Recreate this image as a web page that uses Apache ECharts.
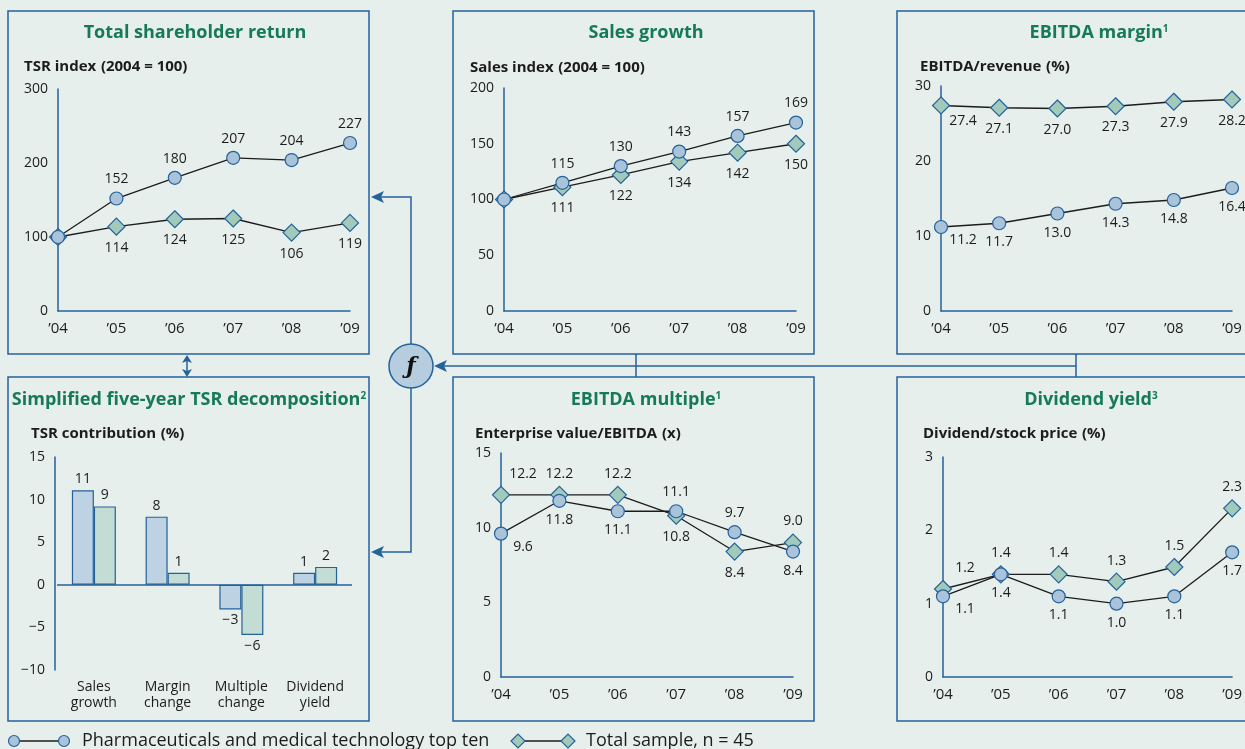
<!DOCTYPE html>
<html>
<head>
<meta charset="utf-8">
<title>Pharma TSR decomposition</title>
<script src="https://cdn.jsdelivr.net/npm/echarts@6/dist/echarts.min.js"></script>
<style>
  html, body { margin: 0; padding: 0; background: #e6efec; }
  #chart { width: 1245px; height: 749px; }
</style>
</head>
<body>
<div id="chart"></div>
<script>
// data
const years = ['’04', '’05', '’06', '’07', '’08', '’09']

const tsrTop = [100, 152, 180, 207, 204, 227]
const tsrAll = [100, 114, 124, 125, 106, 119]
const salesTop = [100, 115, 130, 143, 157, 169]
const salesAll = [100, 111, 122, 134, 142, 150]
const marginTop = [11.2, 11.7, 13.0, 14.3, 14.8, 16.4]
const marginAll = [27.4, 27.1, 27.0, 27.3, 27.9, 28.2]
const multipleTop = [9.6, 11.8, 11.1, 11.1, 9.7, 8.4]
const multipleAll = [12.2, 12.2, 12.2, 10.8, 8.4, 9.0]
const yieldTop = [1.1, 1.4, 1.1, 1.0, 1.1, 1.7]
const yieldAll = [1.2, 1.4, 1.4, 1.3, 1.5, 2.3]

const drivers = ['Sales\ngrowth', 'Margin\nchange', 'Multiple\nchange', 'Dividend\nyield']
const driverTop = [11.1, 8.0, -2.9, 1.4]
const driverAll = [9.2, 1.4, -5.9, 2.1]

const tsrTicks = [0, 100, 200, 300]
const salesTicks = [0, 50, 100, 150, 200]
const marginTicks = [0, 10, 20, 30]
const driverTicks = [-10, -5, 0, 5, 10, 15]
const multipleTicks = [0, 5, 10, 15]
const yieldTicks = [0, 1, 2, 3]

const topName = 'Pharmaceuticals and medical technology top ten'
const allName = 'Total sample, n = 45'

const font = '"Open Sans", "Noto Sans", sans-serif'
const blue = '#25619a'
const green = '#157a55'
const ink = '#1c1c1c'
const circleFill = '#a8c3da'
const diamondFill = '#a2cabb'

const minus = s => String(s).replace('-', '\u2212')

// grids, one per panel
const grids = [
  { left: 58, top: 89, width: 292, height: 222 },
  { left: 504, top: 88, width: 292, height: 223 },
  { left: 941, top: 86, width: 291, height: 225 },
  { left: 57, top: 457, width: 295, height: 213 },
  { left: 501, top: 453, width: 292, height: 224 },
  { left: 943, top: 457, width: 292, height: 220 }
]
const ticks = [tsrTicks, salesTicks, marginTicks, driverTicks, multipleTicks, yieldTicks]

const axisLine = { show: true, onZero: false, lineStyle: { color: blue, width: 1.5 } }
const tickLabel = { color: ink, fontSize: 14, fontFamily: font }

const xAxes = grids.map((g, i) => {
  if (i === 3) {
    return {
      gridIndex: i, type: 'category', data: drivers,
      axisLine: { show: false }, axisTick: { show: false },
      axisLabel: Object.assign({}, tickLabel, { margin: 9, lineHeight: 16, interval: 0 })
    }
  }
  return {
    gridIndex: i, type: 'category', data: years, boundaryGap: false,
    axisLine: axisLine, axisTick: { show: false },
    axisLabel: Object.assign({}, tickLabel, { fontSize: 15, margin: 10, interval: 0 })
  }
})

const yAxes = ticks.map((t, i) => ({
  gridIndex: i, type: 'value',
  min: t[0], max: t[t.length - 1], interval: t[1] - t[0],
  offset: i === 3 ? 2 : 0,
  axisLine: axisLine, axisTick: { show: false }, splitLine: { show: false },
  axisLabel: Object.assign({}, tickLabel, { margin: 10, formatter: v => minus(v) })
}))

// label above the point if it is the higher of the pair, else below
function points(vals, other, isTop, opts) {
  return vals.map((v, i) => {
    let pos
    if (opts.below) pos = 'bottom'
    else pos = (isTop ? v > other[i] : v >= other[i]) ? 'top' : 'bottom'
    const label = { position: pos }
    if (i === 0) {
      if (opts.hideFirst) label.show = false
      else label.offset = [22, pos === 'top' ? 0 : -6]
    }
    return { value: v, label: label }
  })
}

function lineSeries(idx, top, all, dec, opts) {
  const base = {
    type: 'line', xAxisIndex: idx, yAxisIndex: idx,
    lineStyle: { color: ink, width: 1.3 },
    itemStyle: { borderColor: blue, borderWidth: 1.2 },
    label: {
      show: true, distance: 5, color: ink, fontSize: 14, fontFamily: font,
      formatter: p => p.value.toFixed(dec)
    },
    emphasis: { disabled: true },
    animation: false
  }
  return [
    Object.assign({}, base, {
      name: allName, symbol: 'diamond', symbolSize: 17,
      itemStyle: Object.assign({}, base.itemStyle, { color: diamondFill }),
      data: points(all, top, false, opts)
    }),
    Object.assign({}, base, {
      name: topName, symbol: 'circle', symbolSize: 13,
      itemStyle: Object.assign({}, base.itemStyle, { color: circleFill }),
      data: points(top, all, true, opts)
    })
  ]
}

function barSeries(name, vals, fill) {
  return {
    type: 'bar', name: name, xAxisIndex: 3, yAxisIndex: 3,
    barWidth: 22, barGap: '0%',
    itemStyle: { color: fill, borderColor: blue, borderWidth: 1.2 },
    data: vals.map(v => ({ value: v, label: { position: v < 0 ? 'bottom' : 'top' } })),
    label: {
      show: true, distance: 4, color: ink, fontSize: 14, fontFamily: font,
      formatter: p => minus(Math.round(p.value))
    },
    emphasis: { disabled: true },
    animation: false
  }
}

const series = [].concat(
  lineSeries(0, tsrTop, tsrAll, 0, { hideFirst: true }),
  lineSeries(1, salesTop, salesAll, 0, { hideFirst: true }),
  lineSeries(2, marginTop, marginAll, 1, { below: true }),
  lineSeries(4, multipleTop, multipleAll, 1, {}),
  lineSeries(5, yieldTop, yieldAll, 1, {}),
  [barSeries(topName, driverTop, '#bdd2e3'), barSeries(allName, driverAll, '#c3ddd5')]
)
// zero line of the bar panel
series[series.length - 2].markLine = {
  silent: true, symbol: 'none', label: { show: false },
  lineStyle: { color: blue, width: 1.5, type: 'solid' },
  data: [{ yAxis: 0 }]
}

// panel titles and axis titles
const richTitle = {
  b: { fontSize: 18, fontWeight: 'bold', color: green, fontFamily: font },
  s: { fontSize: 10, fontWeight: 'bold', color: green, fontFamily: font, verticalAlign: 'top' }
}
const richAxis = {
  b: { fontSize: 15, fontWeight: 'bold', color: ink, fontFamily: font },
  n: { fontSize: 15, color: ink, fontFamily: font }
}
const panelTitles = [
  [195, 33, '{b|Total shareholder return}'],
  [646, 33, '{b|Sales growth}'],
  [1099, 33, '{b|EBITDA margin}{s|1}'],
  [189, 400, '{b|Simplified five-year TSR decomposition}{s|2}'],
  [646, 400, '{b|EBITDA multiple}{s|1}'],
  [1091, 400, '{b|Dividend yield}{s|3}']
]
const axisTitles = [
  [24, 67, '{b|TSR index} {n|(}{b|2004 = 100}{n|)}'],
  [470, 68, '{b|Sales index} {n|(}{b|2004 = 100}{n|)}'],
  [920, 67, '{b|EBITDA/revenue} {n|(%)}'],
  [31, 434, '{b|TSR contribution} {n|(%)}'],
  [475, 434, '{b|Enterprise value/EBITDA} {n|(x)}'],
  [923, 434, '{b|Dividend/stock price} {n|(%)}']
]
const titles = panelTitles.map(t => ({
  text: t[2], left: t[0], top: t[1], padding: 0,
  textAlign: 'center', textVerticalAlign: 'middle',
  textStyle: { rich: richTitle }
})).concat(axisTitles.map(t => ({
  text: t[2], left: t[0], top: t[1], padding: 0,
  textAlign: 'left', textVerticalAlign: 'middle',
  textStyle: { rich: richAxis }
})))

// frames, connectors and legend
const stroke = { stroke: blue, lineWidth: 1.5, fill: null }
const boxes = [
  [8, 11, 361, 343], [453, 11, 361, 343], [897, 11, 400, 343],
  [8, 377, 361, 344], [453, 377, 361, 344], [897, 377, 400, 344]
].map(b => ({
  type: 'rect', shape: { x: b[0], y: b[1], width: b[2], height: b[3] },
  style: stroke, silent: true
}))

function arrowLeft(x, y) {
  return { type: 'polygon', shape: { points: [[x, y], [x + 13, y - 6], [x + 10, y], [x + 13, y + 6]] }, style: { fill: blue } }
}

const connectors = [
  { type: 'polyline', shape: { points: [[411, 344], [411, 197], [380, 197]] }, style: stroke },
  { type: 'polyline', shape: { points: [[411, 388], [411, 552], [380, 552]] }, style: stroke },
  { type: 'line', shape: { x1: 442, y1: 366, x2: 1076, y2: 366 }, style: stroke },
  { type: 'line', shape: { x1: 636, y1: 354, x2: 636, y2: 377 }, style: stroke },
  { type: 'line', shape: { x1: 1076, y1: 354, x2: 1076, y2: 377 }, style: stroke },
  { type: 'line', shape: { x1: 187, y1: 360, x2: 187, y2: 372 }, style: stroke },
  { type: 'polygon', shape: { points: [[187, 355], [182, 363], [187, 361], [192, 363]] }, style: { fill: blue } },
  { type: 'polygon', shape: { points: [[187, 377], [182, 369], [187, 371], [192, 369]] }, style: { fill: blue } },
  arrowLeft(371, 197),
  arrowLeft(371, 552),
  arrowLeft(434, 366),
  { type: 'circle', shape: { cx: 411, cy: 366, r: 22 }, style: { fill: '#b6cde0', stroke: blue, lineWidth: 1.5 } },
  { type: 'text', x: 411, y: 367, style: { text: 'ƒ', fill: '#111', font: 'italic bold 22px "DejaVu Serif", serif', align: 'center', verticalAlign: 'middle' } }
]

function legendItem(x, symbol, size, fill, text) {
  const y = 741
  const mark = cx => symbol === 'circle'
    ? { type: 'circle', shape: { cx: cx, cy: y, r: size / 2 }, style: { fill: fill, stroke: blue, lineWidth: 1.2 } }
    : { type: 'polygon', shape: { points: [[cx - size / 2, y], [cx, y - size / 2], [cx + size / 2, y], [cx, y + size / 2]] }, style: { fill: fill, stroke: blue, lineWidth: 1.2 } }
  return [
    { type: 'line', shape: { x1: x, y1: y, x2: x + 50, y2: y }, style: { stroke: ink, lineWidth: 1.3 } },
    mark(x),
    mark(x + 50),
    { type: 'text', x: x + 68, y: y, style: { text: text, fill: ink, font: '18px ' + font, verticalAlign: 'middle' } }
  ]
}

const legend = [].concat(
  legendItem(14, 'circle', 11, circleFill, topName),
  legendItem(518, 'diamond', 14, diamondFill, allName)
)

const chart = echarts.init(document.getElementById('chart'))
chart.setOption({
  animation: false,
  backgroundColor: '#e6efec',
  textStyle: { fontFamily: font },
  title: titles,
  grid: grids,
  xAxis: xAxes,
  yAxis: yAxes,
  series: series,
  graphic: { elements: boxes.concat(connectors, legend) }
})
</script>
</body>
</html>
